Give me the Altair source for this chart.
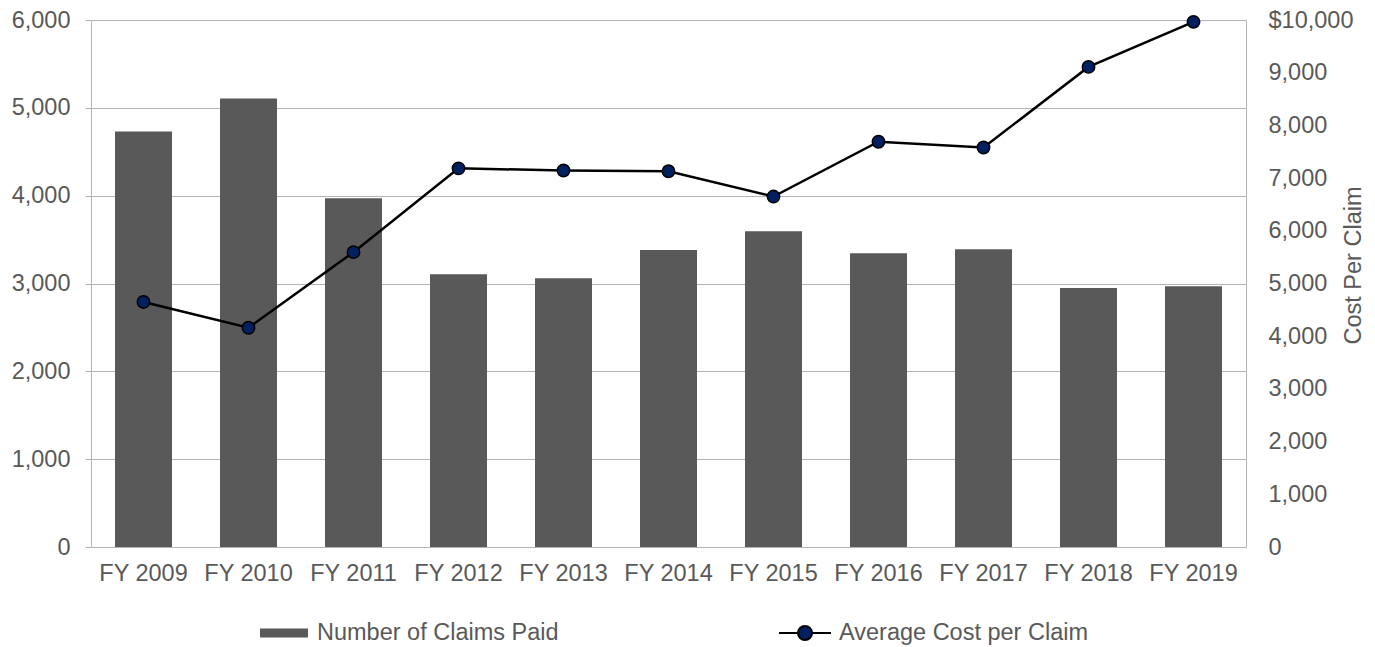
import altair as alt
import pandas as pd

years = ["FY 2009", "FY 2010", "FY 2011", "FY 2012", "FY 2013", "FY 2014",
         "FY 2015", "FY 2016", "FY 2017", "FY 2018", "FY 2019"]
claims_paid = [4730, 5105, 3970, 3105, 3060, 3380, 3595, 3345, 3390, 2950, 2970]
avg_cost = [4650, 4160, 5595, 7185, 7145, 7130, 6650, 7690, 7580, 9110, 9965]

bar_series = "Number of Claims Paid"
line_series = "Average Cost per Claim"

df = pd.DataFrame({
    "year": years,
    "claims": claims_paid,
    "cost": avg_cost,
    "bar_series": bar_series,
    "line_series": line_series,
})

FONT = "Liberation Sans"
TXT = "#595959"
GRID = "#b3b3b3"
FS = 23.5

x_enc = alt.X(
    "year:N", sort=years,
    scale=alt.Scale(paddingInner=0.457, paddingOuter=0.2285),
    axis=alt.Axis(title=None, labelAngle=0, ticks=False, domainColor=GRID,
                  labelFont=FONT, labelFontSize=FS, labelColor=TXT, labelPadding=14),
)

base = alt.Chart(df)

bars = base.mark_bar(opacity=1).encode(
    x=x_enc,
    y=alt.Y("claims:Q", scale=alt.Scale(domain=[0, 6000], nice=False),
            axis=alt.Axis(orient="left", title=None, values=[0, 1000, 2000, 3000, 4000, 5000, 6000],
                          labelExpr="format(datum.value, ',.0f')",
                          grid=True, gridColor=GRID, domainColor=GRID,
                          tickColor=GRID, tickSize=6, labelPadding=15,
                          labelFont=FONT, labelFontSize=FS, labelColor=TXT)),
    color=alt.Color("bar_series:N", scale=alt.Scale(domain=[bar_series], range=["#595959"]),
                    legend=alt.Legend(title=None, orient="none", legendX=169, legendY=589,
                                      symbolType="M-1,-0.1875H1V0.1875H-1Z", symbolSize=2304,
                                      symbolStrokeWidth=0, labelOffset=9, labelLimit=500,
                                      labelFont=FONT, labelFontSize=FS, labelColor=TXT)),
)

line = base.mark_line(color="black", strokeWidth=2.5).encode(
    x=x_enc,
    y=alt.Y("cost:Q", scale=alt.Scale(domain=[0, 10000], nice=False),
            axis=alt.Axis(orient="right", title="Cost Per Claim",
                          values=list(range(0, 10001, 1000)),
                          labelExpr="datum.value == 10000 ? '$10,000' : format(datum.value, ',.0f')",
                          grid=False, ticks=False, domainColor=GRID, labelPadding=22,
                          labelFont=FONT, labelFontSize=FS, labelColor=TXT,
                          titleFont=FONT, titleFontSize=FS, titleColor=TXT, titleFontWeight="normal",
                          titleAngle=270, titleX=107, titleY=245, titleAlign="center",
                          titleBaseline="middle")),
)

points = base.mark_circle(size=154, stroke="black", strokeWidth=1.5, opacity=1).encode(
    x=x_enc,
    y=alt.Y("cost:Q", scale=alt.Scale(domain=[0, 10000], nice=False), axis=None),
    fill=alt.Fill("line_series:N", scale=alt.Scale(domain=[line_series], range=["#002060"]),
                  legend=alt.Legend(title=None, orient="none", legendX=687, legendY=586,
                                    symbolType="M-1,0H-0.27M0.27,0H1M-0.27,0A0.27,0.27 0 1,0 0.27,0A0.27,0.27 0 1,0 -0.27,0Z",
                                    symbolSize=2704, symbolStrokeColor="black",
                                    symbolStrokeWidth=2, symbolFillColor="#002060",
                                    labelOffset=7, labelLimit=500,
                                    labelFont=FONT, labelFontSize=FS, labelColor=TXT)),
)

chart = alt.layer(bars, line, points).resolve_scale(
    y="independent", color="independent", fill="independent"
).properties(
    width=1155, height=527,
    autosize=alt.AutoSizeParams(type="none"),
    padding={"left": 83, "top": 12, "right": 121, "bottom": 100},
).configure_view(stroke=None).configure(background="white")

chart.save("out.html", embed_options={"renderer": "svg", "actions": False})
